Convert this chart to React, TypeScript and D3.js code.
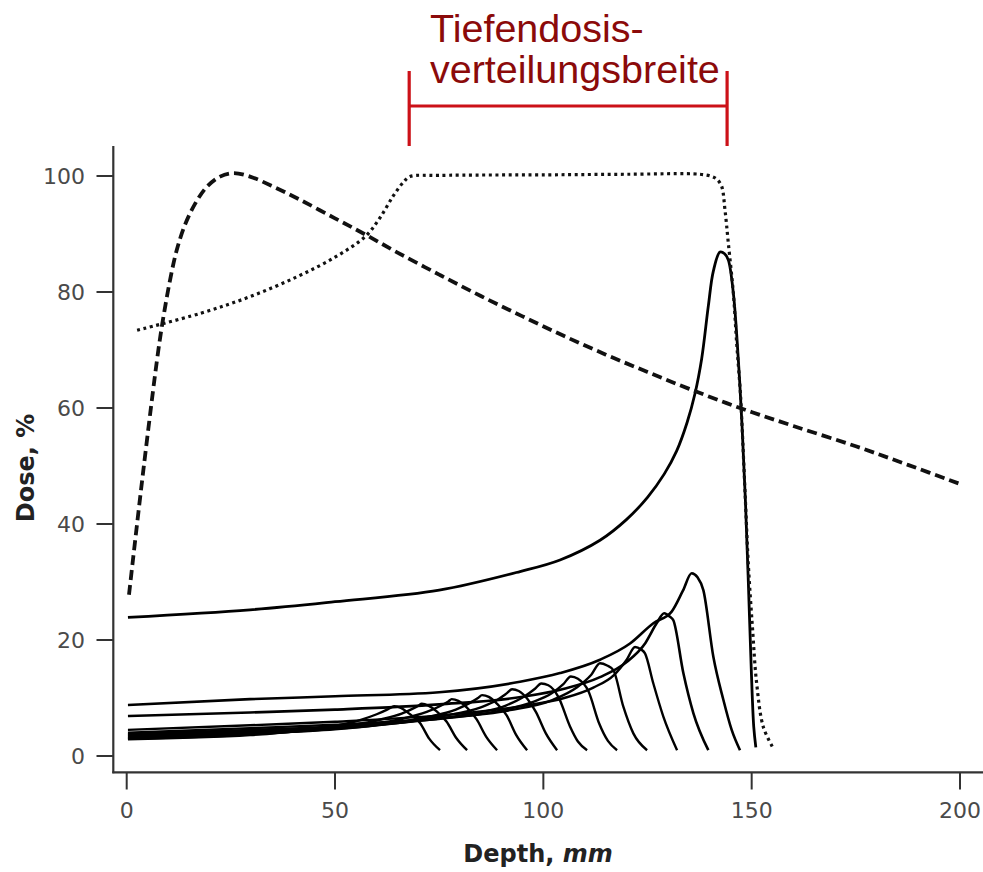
import React from "react";
import * as d3 from "d3";

// ---- Data (depth in mm, dose in %) ----
const xTicks = [0, 50, 100, 150, 200];
const yTicks = [0, 20, 40, 60, 80, 100];

const photonDose: [number, number][] = [
  [0.55, 27.8], [4.0, 49.3], [7.6, 70.0], [9.0, 76.5], [10.5, 82.4], [12.0, 87.2], [14.0, 91.6],
  [16.4, 95.2], [19.2, 98.1], [22.4, 99.9], [25.6, 100.5], [29.6, 99.9], [35.1, 98.2],
  [41.6, 95.9], [50, 92.7], [57.3, 89.9], [65, 86.8], [75, 83.0], [85, 79.3], [95, 75.8],
  [105, 72.4], [115, 69.2], [125, 66.2], [135, 63.3], [147.2, 60.0], [160, 56.9], [175, 53.4],
  [187.5, 50.2], [200, 46.9],
];

const sobpDose: [number, number][] = [
  [2.5, 73.4], [17.6, 76.3], [29.6, 79.2], [40.8, 82.6], [50, 86.0], [57.3, 89.6], [60.8, 92.8],
  [64, 96.6], [66.5, 99.0], [68, 99.9], [75, 100.1], [100.8, 100.2], [120, 100.3], [137.6, 100.3],
  [140.5, 99.9], [141.7, 99.4], [142.8, 98.2], [143.6, 94.1], [144.4, 88.4], [145.6, 79.8],
  [146.4, 71.2], [147.3, 62.5], [147.7, 56.8], [148.5, 44], [149.2, 33], [150.2, 22],
  [151.2, 12.5], [152.8, 5.0], [155.2, 1.3],
];

const braggMain: [number, number][] = [
  [0.3, 23.9], [29.6, 25.2], [50, 26.6], [75, 28.6], [94.4, 31.8], [104, 33.8], [113.6, 37.2],
  [120, 40.8], [125, 44.6], [129, 48.6], [132, 52.6], [134.5, 57.5], [136.4, 62.5], [138, 68.5],
  [139.6, 77.6], [140.8, 83.6], [142.4, 86.9], [143.5, 86.6], [144.4, 85.5], [145.6, 79.8],
  [146.8, 68.3], [147.7, 56.8], [148.5, 44], [149.2, 30], [149.9, 15], [150.5, 5], [151, 1.5],
];

const peakA: [number, number][] = [
  [0.3, 8.8], [29.6, 9.8], [50, 10.3], [75, 11.0], [94.4, 12.8], [104, 14.3], [113.6, 16.6],
  [120.8, 19.4], [126.4, 22.9], [130.8, 24.9], [133.5, 28.5], [135.6, 31.5], [137, 30.8],
  [138.4, 28.6], [140.8, 17.1], [143.2, 9.7], [145.2, 4.5], [147.2, 1.0],
];
const peakB: [number, number][] = [
  [0.3, 6.9], [29.6, 7.5], [50, 8.0], [75, 8.9], [95, 10.2], [105, 11.6], [113.6, 13.6],
  [120, 16.2], [124.5, 19.5], [127.3, 23.0], [129, 24.6], [130.4, 24.0], [131.2, 23.4],
  [133.6, 14.3], [136, 7.4], [139.6, 1.0],
];
const peakC: [number, number][] = [
  [0.3, 4.5], [29.6, 5.3], [50, 5.9], [75, 7.0], [95, 8.6], [105, 10.0], [112, 11.8], [117, 14.0],
  [120, 16.6], [122, 18.8], [123.4, 18.4], [124.4, 17.7], [126.4, 12.5], [128.8, 6.8], [132.1, 1.0],
];
const peakD: [number, number][] = [
  [0.3, 4.0], [29.6, 4.8], [50, 5.4], [75, 6.5], [92, 7.9], [102, 9.6], [108, 11.8], [111.5, 14.0],
  [113.6, 16.0], [115.3, 15.6], [116.8, 14.8], [119.2, 8.5], [121.6, 3.9], [124.9, 1.0],
];
const peakE: [number, number][] = [
  [0.3, 3.8], [29.6, 4.5], [50, 5.1], [72, 6.2], [88, 7.6], [97, 9.2], [102, 10.8], [104.8, 12.4],
  [106.6, 13.7], [108.3, 13.3], [110.8, 11.2], [113.4, 5.6], [115.5, 2.6], [117.7, 1.0],
];
const peakF: [number, number][] = [
  [0.3, 3.6], [29.6, 4.3], [50, 4.9], [68, 5.9], [82, 7.2], [91, 8.7], [95.5, 10.3], [98, 11.6],
  [99.5, 12.5], [101.2, 12.2], [103.6, 10.2], [106.4, 5.1], [108.3, 2.5], [110.5, 1.0],
];
const peakG: [number, number][] = [
  [0.3, 3.4], [29.6, 4.1], [50, 4.7], [64, 5.6], [76, 6.9], [85, 8.4], [89, 9.7], [91.2, 10.8],
  [92.5, 11.5], [94.1, 11.2], [96.1, 9.9], [98.2, 7.6], [100.6, 3.9], [103.3, 1.0],
];
const peakH: [number, number][] = [
  [0.3, 3.2], [29.6, 3.9], [50, 4.6], [62, 5.5], [72, 6.7], [79, 8.0], [82.5, 9.2], [84.3, 10.0],
  [85.3, 10.5], [86.9, 10.2], [88.9, 9.0], [91.2, 7.0], [93.5, 3.6], [96.1, 1.0],
];
const peakI: [number, number][] = [
  [0.3, 3.1], [29.6, 3.8], [48, 4.6], [58, 5.4], [66, 6.4], [72, 7.6], [75.5, 8.7], [77.2, 9.4],
  [78, 9.8], [79.6, 9.5], [81.6, 8.4], [84.0, 6.3], [86.3, 3.3], [88.9, 1.0],
];
const peakJ: [number, number][] = [
  [0.3, 3.0], [29.6, 3.7], [45, 4.5], [54, 5.3], [61, 6.3], [66, 7.3], [68.8, 8.2], [70.1, 8.7],
  [70.8, 9.0], [72.4, 8.7], [74.4, 7.7], [76.8, 5.9], [79.1, 3.1], [81.7, 1.0],
];
const peakK: [number, number][] = [
  [0.3, 2.9], [29.6, 3.6], [42, 4.4], [50, 5.2], [56, 6.2], [60, 7.2], [62.5, 8.0], [63.6, 8.4],
  [64.2, 8.6], [65.8, 8.3], [67.8, 7.3], [70.4, 5.7], [72.6, 3.0], [75.2, 1.0],
];
const pristinePeaks = [peakA, peakB, peakC, peakD, peakE, peakF, peakG, peakH, peakI, peakJ, peakK];

const bracketRange = [67.8, 144.1];
const annotationLines = ["Tiefendosis-", "verteilungsbreite"];

export default function App() {
  const W = 983;
  const H = 872;
  const x = d3.scaleLinear().domain([0, 200]).range([126.7, 960]);
  const y = d3.scaleLinear().domain([0, 100]).range([756, 176]);
  const peakLine = d3
    .line<[number, number]>()
    .x((d) => x(d[0]))
    .y((d) => y(d[1]))
    .curve(d3.curveMonotoneX);
  const smoothLine = d3
    .line<[number, number]>()
    .x((d) => x(d[0]))
    .y((d) => y(d[1]))
    .curve(d3.curveCatmullRom.alpha(0.5));

  const axisX = 113.3;
  const axisY = 772.3;
  const tickColor = "#333";
  const labelColor = "#4a4a4a";

  return (
    <svg
      width={W}
      height={H}
      style={{ position: "absolute", left: 0, top: 0, background: "#fff" }}
      xmlns="http://www.w3.org/2000/svg"
    >
      <rect x={0} y={0} width={W} height={H} fill="#fff" />

      {/* axes */}
      <line x1={axisX} y1={146} x2={axisX} y2={axisY + 1} stroke={tickColor} strokeWidth={2.2} />
      <line x1={axisX - 1} y1={axisY} x2={W} y2={axisY} stroke={tickColor} strokeWidth={2.2} />
      {yTicks.map((t) => (
        <g key={"y" + t}>
          <line x1={96.5} x2={axisX} y1={y(t)} y2={y(t)} stroke={tickColor} strokeWidth={2} />
          <text
            x={85}
            y={y(t)}
            dy="0.36em"
            textAnchor="end"
            fontFamily="DejaVu Sans"
            fontSize={22}
            fill={labelColor}
          >
            {t}
          </text>
        </g>
      ))}
      {xTicks.map((t) => (
        <g key={"x" + t}>
          <line x1={x(t)} x2={x(t)} y1={axisY} y2={789.5} stroke={tickColor} strokeWidth={2} />
          <text
            x={x(t)}
            y={818}
            textAnchor="middle"
            fontFamily="DejaVu Sans"
            fontSize={22}
            fill={labelColor}
          >
            {t}
          </text>
        </g>
      ))}

      {/* axis titles */}
      <text
        transform="translate(34,468) rotate(-90)"
        textAnchor="middle"
        fontFamily="DejaVu Sans"
        fontWeight="bold"
        fontSize={24}
        fill="#222"
      >
        Dose, %
      </text>
      <text
        x={538}
        y={862}
        textAnchor="middle"
        fontFamily="DejaVu Sans"
        fontWeight="bold"
        fontSize={24}
        fill="#222"
      >
        Depth, <tspan fontStyle="italic">mm</tspan>
      </text>

      {/* pristine peaks */}
      {pristinePeaks.map((p, i) => (
        <path
          key={"p" + i}
          d={peakLine(p) || ""}
          fill="none"
          stroke="#000"
          strokeWidth={i < 2 ? 2.6 : 2.4}
          strokeLinejoin="round"
        />
      ))}

      {/* main bragg peak */}
      <path d={smoothLine(braggMain) || ""} fill="none" stroke="#000" strokeWidth={2.8} />

      {/* SOBP dotted */}
      <path
        d={smoothLine(sobpDose) || ""}
        fill="none"
        stroke="#111"
        strokeWidth={3.2}
        strokeDasharray="3 3.6"
      />

      {/* photon dashed */}
      <path
        d={smoothLine(photonDose) || ""}
        fill="none"
        stroke="#111"
        strokeWidth={3.8}
        strokeDasharray="10 5"
      />

      {/* annotation bracket */}
      <g stroke="#cc1118" strokeWidth={3.2}>
        <line x1={x(bracketRange[0])} x2={x(bracketRange[1])} y1={106} y2={106} />
        <line x1={x(bracketRange[0])} x2={x(bracketRange[0])} y1={71} y2={146} />
        <line x1={x(bracketRange[1])} x2={x(bracketRange[1])} y1={71} y2={146} />
      </g>
      {annotationLines.map((s, i) => (
        <text
          key={s}
          x={430}
          y={42 + i * 41}
          fontFamily="Liberation Sans"
          fontSize={39.5}
          fill="#8b0a0a"
        >
          {s}
        </text>
      ))}
    </svg>
  );
}
